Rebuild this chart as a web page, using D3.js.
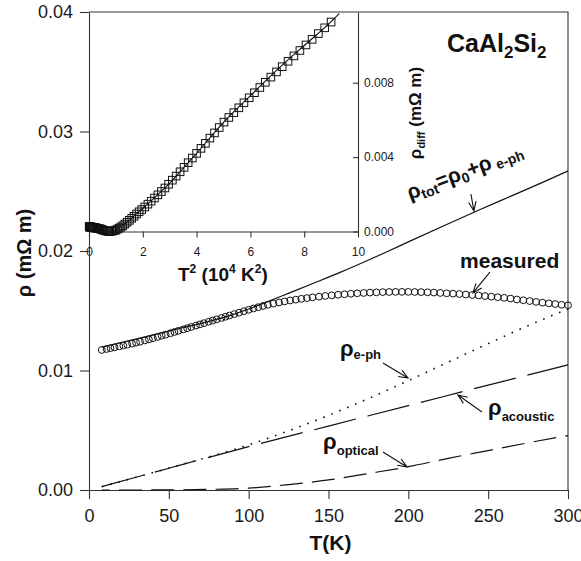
<!DOCTYPE html>
<html>
<head>
<meta charset="utf-8">
<script src="https://cdn.jsdelivr.net/npm/d3@7"></script>
<style>
    body { margin: 0; background: #fff; }
    svg { display: block; font-family: "Liberation Sans", Arial, sans-serif; }
    .axis path, .axis line { stroke: #333; stroke-width: 1.1; }
    .axis text { fill: #1a1a1a; font-family: "Liberation Sans", Arial, sans-serif; }
</style>
</head>
<body>
<div id="chart"></div>
<script>
(function () {
    "use strict";

    // measured resistivity (mOhm m) vs temperature (K)
    const temps = [8, 11, 13.5, 16, 19, 21.5, 24, 27, 29.5, 32,
        35, 37.5, 40, 43, 45.5, 48, 51, 53.5, 56, 59,
        61.5, 64, 67, 69.5, 72, 75, 77.5, 80, 83, 85.5,
        88, 91, 94, 97, 100, 103, 106, 109, 112, 115.5,
        119, 122.5, 126, 129.5, 133, 136.5, 140, 144, 148, 152,
        156, 160, 164, 168, 172, 176, 180, 184, 188, 192,
        196, 200, 204, 208, 212, 216, 220, 224, 228, 232,
        236, 240, 244, 248, 252, 256, 260, 264, 268, 272,
        276, 280, 284, 288, 292, 296, 300];

    const measured = [0.01172, 0.01180, 0.01187, 0.01194, 0.01202, 0.01209, 0.01216, 0.01225, 0.01233, 0.01241,
        0.01252, 0.01261, 0.01270, 0.01281, 0.01291, 0.01300, 0.01312, 0.01322, 0.01332, 0.01344,
        0.01354, 0.01364, 0.01376, 0.01386, 0.01396, 0.01408, 0.01418, 0.01428, 0.01440, 0.01450,
        0.01460, 0.01472, 0.01484, 0.01496, 0.01508, 0.01519, 0.01530, 0.01540, 0.01550, 0.01560,
        0.01569, 0.01578, 0.01586, 0.01593, 0.01600, 0.01606, 0.01612, 0.01618, 0.01624, 0.01629,
        0.01634, 0.01638, 0.01642, 0.01646, 0.01649, 0.01652, 0.01654, 0.01656, 0.01657, 0.01658,
        0.01658, 0.01658, 0.01657, 0.01656, 0.01654, 0.01652, 0.01649, 0.01646, 0.01643, 0.01640,
        0.01636, 0.01632, 0.01628, 0.01623, 0.01618, 0.01613, 0.01608, 0.01602, 0.01594, 0.01588,
        0.01581, 0.01574, 0.01568, 0.01562, 0.01556, 0.01550, 0.01546];

    // inset: rho_diff at the same temperatures, plotted against T^2
    const rhoDiff = [0.00025, 0.00025, 0.00025, 0.00025, 0.00025, 0.00024, 0.00024, 0.00024, 0.00023, 0.00023,
        0.00023, 0.00022, 0.00022, 0.00021, 0.00021, 0.00020, 0.00019, 0.00018, 0.00017, 0.00016,
        0.00015, 0.00014, 0.00012, 0.00010, 0.00008, 0.00006, 0.00004, 0.00003, 0.00002, 0.00001,
        0.00000, 0.00001, 0.00003, 0.00005, 0.00008, 0.00013, 0.00018, 0.00024, 0.00031, 0.00040,
        0.00050, 0.00060, 0.00071, 0.00082, 0.00094, 0.00106, 0.00118, 0.00132, 0.00147, 0.00163,
        0.00180, 0.00197, 0.00215, 0.00234, 0.00254, 0.00276, 0.00298, 0.00321, 0.00345, 0.00370,
        0.00395, 0.00420, 0.00447, 0.00474, 0.00502, 0.00530, 0.00559, 0.00588, 0.00613, 0.00639,
        0.00665, 0.00692, 0.00719, 0.00746, 0.00774, 0.00802, 0.00830, 0.00858, 0.00886, 0.00915,
        0.00944, 0.00973, 0.01003, 0.01033, 0.01064, 0.01095, 0.01126];

    const fitT2 = [0.78, 0.9, 1.0, 1.25, 1.5, 1.75, 2.0, 2.5, 3.0, 3.5, 4.0, 5.0, 6.0, 7.0, 8.0, 9.0, 9.3];
    const fitDiff = [0, 0.00004, 0.00009, 0.0003, 0.0006, 0.00093, 0.00125, 0.0019, 0.0026, 0.0034,
        0.0042, 0.00587, 0.0073, 0.0087, 0.0100, 0.01128, 0.01172];

    // model curves
    const totT = [8, 50, 90, 100, 110, 122, 141, 158, 173, 187, 200, 224, 245, 265, 283, 300];
    const totRho = [0.01195, 0.01330, 0.01468, 0.01515, 0.01566, 0.01630, 0.01732, 0.01825, 0.01912,
        0.01996, 0.02076, 0.02222, 0.02347, 0.02463, 0.02568, 0.02670];

    const ephT = [8, 50, 100, 125, 150, 175, 200, 225, 250, 275, 300];
    const ephRho = [0.00028, 0.00183, 0.00378, 0.00495, 0.00625, 0.00765, 0.00915, 0.0107, 0.01225, 0.01375, 0.01515];

    const acousticT = [8, 50, 100, 150, 200, 250, 300];
    const acousticRho = [0.00028, 0.00182, 0.00363, 0.00535, 0.00706, 0.00878, 0.01047];

    const opticalT = [8, 25, 50, 75, 100, 125, 150, 175, 200, 225, 250, 275, 300];
    const opticalRho = [0, 0, 0.00001, 0.00005, 0.00015, 0.00045, 0.00084, 0.00138, 0.00195, 0.00265, 0.0033, 0.00395, 0.00455];

    const xTicks = [0, 50, 100, 150, 200, 250, 300];
    const yTicks = [0, 0.01, 0.02, 0.03, 0.04];
    const insetXTicks = [0, 2, 4, 6, 8, 10];
    const insetYTicks = [0, 0.004, 0.008];

    const width = 581;
    const height = 561;
    const margin = { top: 12, right: 13, bottom: 71, left: 89 };

    const x = d3.scaleLinear().domain([0, 300]).range([margin.left, width - margin.right]);
    const y = d3.scaleLinear().domain([0, 0.04]).range([height - margin.bottom, margin.top]);

    const ix = d3.scaleLinear().domain([0, 10]).range([margin.left, 358]);
    const iy = d3.scaleLinear().domain([0, 0.0118]).range([231.5, margin.top]);

    const svg = d3.select("#chart").append("svg")
        .attr("width", width)
        .attr("height", height);

    // main axes
    svg.append("g")
        .attr("class", "axis")
        .attr("transform", `translate(0,${y(0)})`)
        .call(d3.axisBottom(x).tickValues(xTicks).tickSize(9).tickSizeOuter(0).tickPadding(10))
        .selectAll("text").attr("font-size", 18);

    svg.append("g")
        .attr("class", "axis")
        .attr("transform", `translate(${x(0)},0)`)
        .call(d3.axisLeft(y).tickValues(yTicks).tickFormat(d3.format(".2f"))
            .tickSize(9).tickSizeOuter(0).tickPadding(7))
        .selectAll("text").attr("font-size", 18);

    // frame: top and right
    svg.append("path")
        .attr("d", `M${x(0)},${y(0.04)}H${x(300)}V${y(0)}`)
        .attr("fill", "none")
        .attr("stroke", "#333")
        .attr("stroke-width", 1.1);

    // inset axes
    svg.append("g")
        .attr("class", "axis")
        .attr("transform", `translate(0,${iy(0)})`)
        .call(d3.axisBottom(ix).tickValues(insetXTicks).tickSize(6).tickSizeOuter(0).tickPadding(10))
        .selectAll("text").attr("font-size", 12);

    svg.append("g")
        .attr("class", "axis")
        .attr("transform", `translate(${ix(10)},0)`)
        .call(d3.axisRight(iy).tickValues(insetYTicks).tickFormat(d3.format(".3f"))
            .tickSize(-5).tickSizeOuter(0).tickPadding(6))
        .selectAll("text").attr("font-size", 12);

    const curve = (xs, ys, sx, sy) => d3.line()
        .x(d => sx(d[0]))
        .y(d => sy(d[1]))
        .curve(d3.curveMonotoneX)(d3.zip(xs, ys));

    const lines = svg.append("g").attr("fill", "none").attr("stroke", "#111");

    lines.append("path")
        .attr("d", curve(opticalT, opticalRho, x, y))
        .attr("stroke-width", 1.2)
        .attr("stroke-dasharray", "23,9.2")
        .attr("stroke-dashoffset", 15);

    lines.append("path")
        .attr("d", curve(acousticT, acousticRho, x, y))
        .attr("stroke-width", 1.2)
        .attr("stroke-dasharray", "43,12");

    lines.append("path")
        .attr("d", curve(ephT, ephRho, x, y))
        .attr("stroke-width", 1.6)
        .attr("stroke-dasharray", "1.6,7");

    lines.append("path")
        .attr("d", curve(totT, totRho, x, y))
        .attr("stroke-width", 1.2);

    lines.append("path")
        .attr("d", curve(fitT2, fitDiff, ix, iy))
        .attr("stroke-width", 1.1);

    // measured points
    svg.append("g")
        .selectAll("circle")
        .data(d3.zip(temps, measured))
        .join("circle")
        .attr("cx", d => x(d[0]))
        .attr("cy", d => y(d[1]))
        .attr("r", 3.4)
        .attr("fill", "none")
        .attr("stroke", "#111")
        .attr("stroke-width", 1);

    // inset squares
    const sq = 7.6;
    svg.append("g")
        .selectAll("rect")
        .data(d3.zip(temps, rhoDiff))
        .join("rect")
        .attr("x", d => ix(d[0] * d[0] / 1e4) - sq / 2)
        .attr("y", d => iy(d[1]) - sq / 2)
        .attr("width", sq)
        .attr("height", sq)
        .attr("fill", "none")
        .attr("stroke", "#111")
        .attr("stroke-width", 1);

    // text with sub/superscripts
    function richText(parent, px, py, parts) {
        const t = parent.append("text")
            .attr("x", px)
            .attr("y", py)
            .attr("font-weight", "bold")
            .attr("fill", "#111");
        let shift = 0;
        for (const p of parts) {
            const off = p.shift || 0;
            t.append("tspan")
                .attr("dy", off - shift)
                .attr("font-size", p.size)
                .text(p.text);
            shift = off;
        }
        return t;
    }

    function arrow(t1, r1, t2, r2) {
        const x1 = x(t1), y1 = y(r1), x2 = x(t2), y2 = y(r2);
        const a = Math.atan2(y2 - y1, x2 - x1);
        const len = 10, spread = 0.38;
        const b1 = [x2 - len * Math.cos(a - spread), y2 - len * Math.sin(a - spread)];
        const b2 = [x2 - len * Math.cos(a + spread), y2 - len * Math.sin(a + spread)];
        svg.append("path")
            .attr("d", `M${x1},${y1}L${x2},${y2}M${b1[0]},${b1[1]}L${x2},${y2}L${b2[0]},${b2[1]}`)
            .attr("fill", "none")
            .attr("stroke", "#111")
            .attr("stroke-width", 1.1);
    }

    const notes = svg.append("g");

    richText(notes, x(224.2), y(0.03665), [
        { text: "CaAl", size: 25 },
        { text: "2", size: 17, shift: 6 },
        { text: "Si", size: 25 },
        { text: "2", size: 17, shift: 6 }
    ]);

    richText(notes, 0, 0, [
        { text: "ρ", size: 21 },
        { text: "tot", size: 14, shift: 4 },
        { text: "=ρ", size: 21 },
        { text: "0", size: 14, shift: 4 },
        { text: "+ρ", size: 21 },
        { text: " e-ph", size: 14, shift: 3 }
    ]).attr("transform", `translate(${x(201)},${y(0.02427)}) rotate(-21)`);

    richText(notes, x(232.4), y(0.01858), [{ text: "measured", size: 21 }]);

    richText(notes, x(157.2), y(0.01121), [
        { text: "ρ", size: 22 },
        { text: "e-ph", size: 13, shift: 3 }
    ]);

    richText(notes, x(249.9), y(0.00628), [
        { text: "ρ", size: 22 },
        { text: "acoustic", size: 13, shift: 6 }
    ]);

    richText(notes, x(146.6), y(0.00343), [
        { text: "ρ", size: 22 },
        { text: "optical", size: 13, shift: 6 }
    ]);

    arrow(239.2, 0.02477, 241.1, 0.02335);
    arrow(251.1, 0.01824, 240.5, 0.01649);
    arrow(184.1, 0.01063, 199.8, 0.00937);
    arrow(246.1, 0.00653, 231.1, 0.00795);
    arrow(184.1, 0.00318, 199.2, 0.00192);

    // axis titles
    richText(svg, x(150) + 2, 550, [{ text: "T(K)", size: 21 }])
        .attr("text-anchor", "middle");

    richText(svg, 0, 0, [{ text: "ρ (mΩ m)", size: 20 }])
        .attr("text-anchor", "middle")
        .attr("transform", "translate(31,253) rotate(-90)");

    richText(svg, 178, 281, [
        { text: "T", size: 19 },
        { text: "2", size: 12, shift: -8 },
        { text: " (10", size: 19 },
        { text: "4", size: 12, shift: -8 },
        { text: " K", size: 19 },
        { text: "2", size: 12, shift: -8 },
        { text: ")", size: 19 }
    ]);

    richText(svg, 0, 0, [
        { text: "ρ", size: 17 },
        { text: "diff", size: 11, shift: 4 },
        { text: " (mΩ m)", size: 17 }
    ])
        .attr("text-anchor", "middle")
        .attr("transform", "translate(421,113) rotate(-90)");
}());
</script>
</body>
</html>
